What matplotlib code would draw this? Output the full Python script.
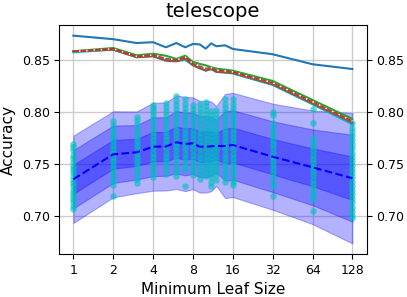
import matplotlib

matplotlib.use("Agg")
import matplotlib.pyplot as plt

# leaf sizes (x) and curves
leaf = [1, 2, 3, 4, 5, 6, 7, 8, 9, 10, 11, 12, 14, 16, 32, 64, 128]

acc_blue = [0.8734, 0.8700, 0.8663, 0.8671, 0.8622, 0.8663, 0.8622, 0.8654, 0.8650,
            0.8609, 0.8660, 0.8632, 0.8641, 0.8606, 0.8555, 0.8459, 0.8413]
acc_cyan = [0.8574, 0.8600, 0.8530, 0.8540, 0.8500, 0.8490, 0.8500, 0.8450, 0.8425,
            0.8400, 0.8410, 0.8390, 0.8380, 0.8370, 0.8260, 0.8074, 0.7882]
acc_green = [0.8584, 0.8615, 0.8545, 0.8560, 0.8541, 0.8510, 0.8541, 0.8481, 0.8462,
             0.8449, 0.8430, 0.8417, 0.8407, 0.8397, 0.8298, 0.8115, 0.7933]
acc_red = [0.8582, 0.8607, 0.8535, 0.8548, 0.8515, 0.8500, 0.8528, 0.8465, 0.8440,
           0.8420, 0.8425, 0.8400, 0.8395, 0.8385, 0.8282, 0.8099, 0.7913]
acc_brown = [0.8584, 0.8599, 0.8526, 0.8535, 0.8493, 0.8487, 0.8513, 0.8449, 0.8420,
             0.8397, 0.8417, 0.8385, 0.8380, 0.8375, 0.8266, 0.8083, 0.7897]

# mean and std of the sampled runs
mean_acc = [0.7353, 0.7593, 0.7612, 0.7666, 0.7668, 0.7709, 0.7692, 0.7699, 0.7666,
            0.7666, 0.7670, 0.7673, 0.7673, 0.7683, 0.7570, 0.7468, 0.7363]
std_acc = [0.0140, 0.0138, 0.0131, 0.0141, 0.0141, 0.0150, 0.0151, 0.0147, 0.0147,
           0.0147, 0.0144, 0.0128, 0.0167, 0.0167, 0.0170, 0.0182, 0.0209]

# individual runs per leaf size
runs = {
    1: [0.769, 0.766, 0.763, 0.759, 0.756, 0.752, 0.748, 0.745, 0.742, 0.738, 0.735,
        0.732, 0.729, 0.725, 0.722, 0.719, 0.716, 0.713, 0.710, 0.707],
    2: [0.791, 0.787, 0.783, 0.780, 0.776, 0.772, 0.768, 0.764, 0.761, 0.757, 0.753,
        0.749, 0.745, 0.741, 0.737, 0.734, 0.730, 0.719],
    3: [0.795, 0.792, 0.788, 0.784, 0.780, 0.776, 0.772, 0.768, 0.764, 0.760, 0.756,
        0.752, 0.748, 0.744, 0.740, 0.736, 0.732],
    4: [0.807, 0.804, 0.801, 0.797, 0.793, 0.789, 0.785, 0.781, 0.777, 0.773, 0.769,
        0.765, 0.761, 0.757, 0.753, 0.749, 0.745, 0.741, 0.737],
    5: [0.809, 0.805, 0.801, 0.797, 0.793, 0.789, 0.785, 0.781, 0.777, 0.773, 0.769,
        0.765, 0.761, 0.757, 0.753, 0.749, 0.745, 0.740],
    6: [0.815, 0.811, 0.807, 0.803, 0.799, 0.795, 0.791, 0.787, 0.783, 0.779, 0.775,
        0.771, 0.767, 0.763, 0.759, 0.755, 0.750, 0.746, 0.742, 0.738],
    7: [0.812, 0.808, 0.804, 0.800, 0.796, 0.792, 0.788, 0.784, 0.780, 0.776, 0.772,
        0.768, 0.764, 0.760, 0.756, 0.752, 0.748, 0.744, 0.729],
    8: [0.807, 0.803, 0.799, 0.795, 0.791, 0.787, 0.783, 0.779, 0.775, 0.771, 0.767,
        0.763, 0.759, 0.755, 0.751, 0.747, 0.743, 0.739],
    9: [0.808, 0.804, 0.800, 0.796, 0.792, 0.788, 0.784, 0.780, 0.776, 0.772, 0.768,
        0.764, 0.760, 0.756, 0.752, 0.748, 0.744, 0.740, 0.736],
    10: [0.810, 0.806, 0.802, 0.798, 0.794, 0.790, 0.786, 0.782, 0.778, 0.774, 0.770,
         0.766, 0.762, 0.758, 0.754, 0.750, 0.746, 0.742, 0.738],
    11: [0.801, 0.797, 0.793, 0.789, 0.785, 0.781, 0.777, 0.773, 0.769, 0.765, 0.761,
         0.757, 0.753, 0.749, 0.745, 0.741, 0.737, 0.733, 0.729],
    12: [0.802, 0.798, 0.794, 0.790, 0.786, 0.782, 0.778, 0.774, 0.770, 0.766, 0.762,
         0.758, 0.754, 0.750, 0.746, 0.742, 0.739, 0.735],
    14: [0.812, 0.808, 0.804, 0.800, 0.796, 0.792, 0.788, 0.784, 0.780, 0.776, 0.772,
         0.768, 0.764, 0.760, 0.756, 0.752, 0.748, 0.744, 0.740, 0.737, 0.733],
    16: [0.812, 0.808, 0.804, 0.800, 0.796, 0.792, 0.788, 0.784, 0.780, 0.776, 0.772,
         0.768, 0.764, 0.760, 0.756, 0.752, 0.748, 0.744, 0.740, 0.736, 0.733, 0.730],
    32: [0.800, 0.797, 0.789, 0.785, 0.781, 0.777, 0.773, 0.769, 0.765, 0.761, 0.757,
         0.753, 0.749, 0.745, 0.741, 0.737, 0.733, 0.729, 0.719],
    64: [0.803, 0.789, 0.775, 0.771, 0.767, 0.763, 0.759, 0.755, 0.751, 0.747, 0.743,
         0.739, 0.735, 0.731, 0.727, 0.723, 0.719, 0.716, 0.705],
    128: [0.789, 0.785, 0.781, 0.777, 0.773, 0.769, 0.765, 0.761, 0.757, 0.753, 0.749,
          0.745, 0.741, 0.737, 0.733, 0.729, 0.725, 0.721, 0.717, 0.713, 0.709, 0.705,
          0.701, 0.698],
}

xticks = [1, 2, 4, 8, 16, 32, 64, 128]
yticks = [0.70, 0.75, 0.80, 0.85]

fig = plt.figure(figsize=(4.07, 2.97), dpi=100)
ax = fig.add_axes([0.146, 0.145, 0.755, 0.770])
ax.set_xscale("log", base=2)

# std bands (1, 2, 3 sigma) around the mean
for k in (3, 2, 1):
    lo = [m - k * s for m, s in zip(mean_acc, std_acc)]
    hi = [m + k * s for m, s in zip(mean_acc, std_acc)]
    ax.fill_between(leaf, lo, hi, color="b", alpha=0.3, lw=0.8, zorder=1)

for x, vals in runs.items():
    ax.scatter([x] * len(vals), vals, s=22, color="c", alpha=0.6, lw=0, zorder=2)

ax.plot(leaf, mean_acc, "b--", lw=1.5, zorder=3)

ax.plot(leaf, acc_blue, color="tab:blue", lw=1.5, zorder=4)
ax.plot(leaf, acc_cyan, color="c", lw=1.5, zorder=4)
ax.plot(leaf, acc_green, color="tab:green", lw=1.5, zorder=4)
ax.plot(leaf, acc_brown, color="tab:brown", lw=1.5, zorder=5)
ax.plot(leaf, acc_red, color="tab:red", lw=1.0, ls=(0, (4, 1.2)),
        gapcolor="white", zorder=6)

ax.set_xlim(2 ** -0.35, 2 ** 7.36)
ax.set_ylim(0.6635, 0.8834)
ax.set_xticks(xticks)
ax.set_xticklabels([str(t) for t in xticks], fontsize=9)
ax.set_yticks(yticks)
ax.set_yticklabels([f"{t:.2f}" for t in yticks], fontsize=9)
ax.minorticks_off()
ax.tick_params(right=True, labelright=True)
ax.grid(True, color="#cccccc", lw=1)
ax.set_axisbelow(True)

ax.set_title("telescope", fontsize=14)
ax.set_xlabel("Minimum Leaf Size", fontsize=11)
ax.set_ylabel("Accuracy", fontsize=11)

fig.savefig("out.png", dpi=100)
